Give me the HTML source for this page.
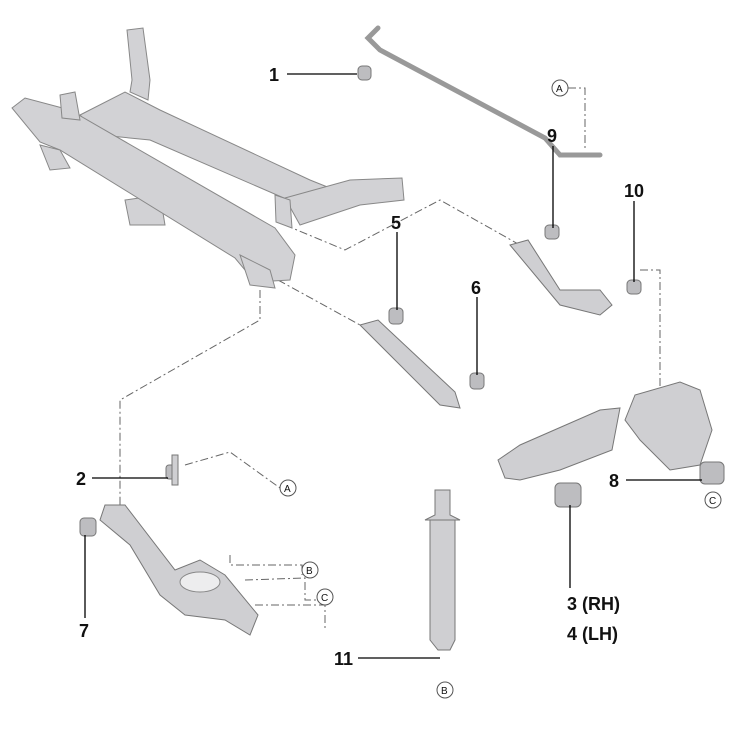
<!DOCTYPE html>
<html><head><meta charset="utf-8"><style>
html,body{margin:0;padding:0;background:#fff;width:750px;height:750px;overflow:hidden}
svg text{font-family:"Liberation Sans",sans-serif;font-weight:bold;font-size:18px;fill:#111}
.c text{font-size:10px;font-weight:normal}
</style></head><body>
<svg width="750" height="750" viewBox="0 0 750 750" xmlns="http://www.w3.org/2000/svg">
<g fill="none" stroke="#666" stroke-width="1" stroke-dasharray="8,3,2,3">
<polyline points="568,88 585,88 585,150"/>
<polyline points="285,225 345,250 440,200 520,245"/>
<polyline points="278,280 360,325"/>
<polyline points="640,270 660,270 660,395"/>
<polyline points="260,290 260,320 120,400 120,505"/>
<polyline points="185,465 230,452 280,488"/>
<polyline points="230,555 230,565 302,565 302,575"/>
<polyline points="245,580 305,578 305,600 318,600"/>
<polyline points="255,605 325,605 325,630"/>
</g>
<!-- subframe -->
<g stroke="#888" stroke-width="1" fill="#d2d2d5">
<path d="M127,30 L143,28 L150,80 L148,100 L130,92 L132,80 Z"/>
<path d="M80,115 L125,92 L160,110 L310,180 L340,192 L330,210 L300,205 L150,140 L100,135 Z"/>
<path d="M285,198 L350,180 L402,178 L404,200 L360,205 L300,225 Z"/>
<path d="M125,200 L160,195 L165,225 L130,225 Z"/>
<path d="M12,108 L25,98 L70,110 L275,228 L295,255 L290,280 L255,282 L235,258 L60,150 L40,142 Z"/>
<path d="M40,145 L60,150 L70,168 L50,170 Z"/>
<path d="M60,95 L75,92 L80,120 L62,118 Z"/>
<path d="M240,255 L270,270 L275,288 L250,285 Z"/>
<path d="M275,195 L290,200 L292,228 L276,222 Z"/>
</g>
<!-- stabilizer bar -->
<path d="M378,28 L368,38 L380,50 L545,138 L560,155 L600,155" fill="none" stroke="#999" stroke-width="5" stroke-linecap="round"/>
<g fill="#bdbdc0" stroke="#777">
<rect x="358" y="66" width="13" height="14" rx="4"/>
<rect x="545" y="225" width="14" height="14" rx="4"/>
<rect x="627" y="280" width="14" height="14" rx="4"/>
<rect x="389" y="308" width="14" height="16" rx="4"/>
<rect x="470" y="373" width="14" height="16" rx="4"/>
<rect x="166" y="465" width="12" height="14" rx="3"/>
<rect x="80" y="518" width="16" height="18" rx="4"/>
<rect x="555" y="483" width="26" height="24" rx="5"/>
<rect x="700" y="462" width="24" height="22" rx="5"/>
</g>
<!-- arms -->
<g stroke="#777" fill="#cfcfd2">
<path d="M510,245 L528,240 L560,290 L600,290 L612,305 L600,315 L560,305 Z"/>
<path d="M360,325 L378,320 L455,392 L460,408 L440,405 Z"/>
<path d="M498,460 L520,445 L600,410 L620,408 L612,450 L560,470 L520,480 L505,478 Z"/>
<path d="M635,395 L680,382 L700,390 L712,430 L700,465 L670,470 L640,440 L625,420 Z"/>
<path d="M105,505 L125,505 L175,570 L200,560 L225,575 L258,615 L250,635 L225,620 L185,615 L160,595 L130,545 L100,520 Z"/>
<path d="M172,455 L178,455 L178,485 L172,485 Z"/>
<path d="M435,490 L450,490 L450,515 L460,520 L425,520 L435,515 Z"/>
<path d="M430,520 L455,520 L455,640 L450,650 L438,650 L430,640 Z"/>
</g>
<g fill="#ededee" stroke="#888"><ellipse cx="200" cy="582" rx="20" ry="10"/></g>
<!-- leaders -->
<g stroke="#000" stroke-width="1.3">
<line x1="287" y1="74" x2="357" y2="74"/>
<line x1="553" y1="146" x2="553" y2="228"/>
<line x1="634" y1="201" x2="634" y2="282"/>
<line x1="397" y1="232" x2="397" y2="310"/>
<line x1="477" y1="297" x2="477" y2="375"/>
<line x1="92" y1="478" x2="168" y2="478"/>
<line x1="85" y1="618" x2="85" y2="535"/>
<line x1="358" y1="658" x2="440" y2="658"/>
<line x1="626" y1="480" x2="702" y2="480"/>
<line x1="570" y1="588" x2="570" y2="505"/>
</g>
<text x="269" y="81">1</text>
<text x="547" y="142">9</text>
<text x="624" y="197">10</text>
<text x="391" y="229">5</text>
<text x="471" y="294">6</text>
<text x="76" y="485">2</text>
<text x="79" y="637">7</text>
<text x="334" y="665">11</text>
<text x="609" y="487">8</text>
<text x="567" y="610">3 (RH)</text>
<text x="567" y="640">4 (LH)</text>
<g class="c" fill="#fff" stroke="#555">
<circle cx="560" cy="88" r="8"/><circle cx="288" cy="488" r="8"/>
<circle cx="310" cy="570" r="8"/><circle cx="325" cy="597" r="8"/>
<circle cx="445" cy="690" r="8"/><circle cx="713" cy="500" r="8"/>
</g>
<g class="c">
<text x="556" y="92">A</text><text x="284" y="492">A</text>
<text x="306" y="574">B</text><text x="321" y="601">C</text>
<text x="441" y="694">B</text><text x="709" y="504">C</text>
</g>
</svg>
</body></html>
